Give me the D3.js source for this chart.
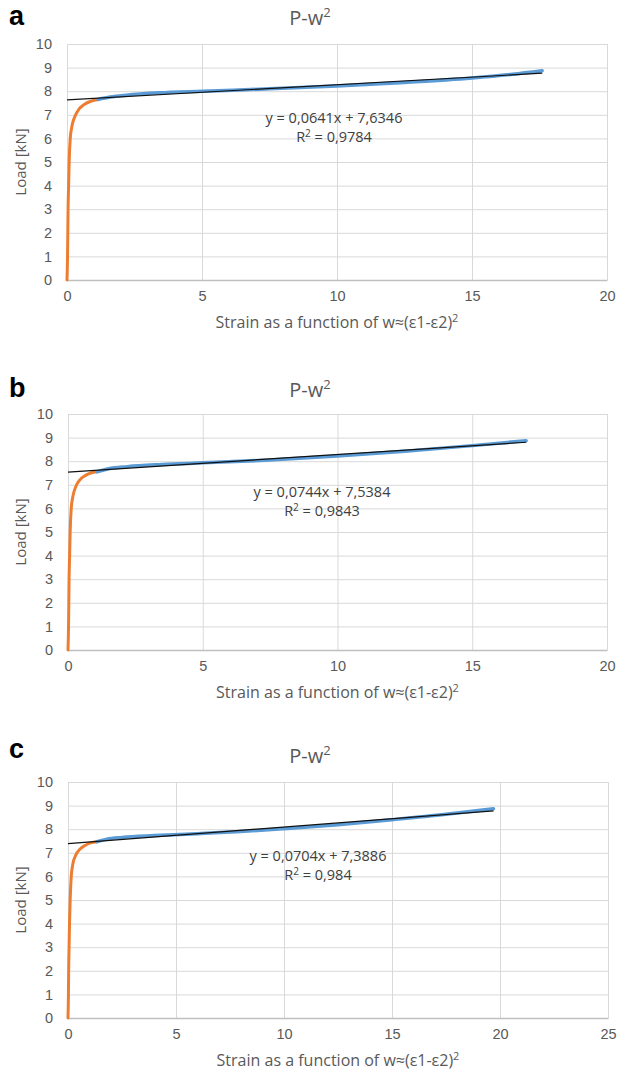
<!DOCTYPE html>
<html>
<head>
<meta charset="utf-8">
<script src="https://cdn.jsdelivr.net/npm/d3@7"></script>
<style>
body { margin: 0; background: #fff; }
svg { display: block; font-family: "Open Sans", sans-serif; }
.tick text { fill: #595959; font-size: 14.5px; }
.grid line { stroke: #d9d9d9; }
</style>
</head>
<body>
<svg id="plot" width="624" height="1072"></svg>
<script>
var svg = d3.select("#plot");

// panel a
var orangeA = [[0,0],[0.02,1],[0.03,2],[0.04,3],[0.06,4],[0.08,5],[0.12,6],[0.18,6.5],[0.3,6.95],[0.45,7.25],[0.65,7.45],[0.9,7.58],[1.15,7.65]];
var blueA = [[1.15,7.65],[1.6,7.75],[2.2,7.83],[3.4,7.93],[5,8.0],[7.5,8.1],[10,8.22],[12.5,8.37],[15,8.56],[16.5,8.72],[17.6,8.87]];
// panel b
var orangeB = [[0,0],[0.02,1],[0.03,2],[0.04,3],[0.06,4],[0.08,5],[0.12,6],[0.18,6.5],[0.3,6.95],[0.45,7.22],[0.65,7.4],[0.85,7.5],[1.08,7.55]];
var blueB = [[1.08,7.55],[1.5,7.68],[2.2,7.77],[3.5,7.86],[5,7.93],[7.5,8.05],[10,8.22],[12.5,8.42],[15,8.66],[17,8.87]];
// panel c
var orangeC = [[0,0],[0.02,1],[0.03,2],[0.05,3],[0.07,4],[0.1,5],[0.15,6],[0.22,6.5],[0.36,6.9],[0.55,7.15],[0.8,7.32],[1.05,7.42],[1.34,7.47]];
var blueC = [[1.34,7.47],[1.8,7.58],[2.5,7.65],[4,7.73],[6,7.81],[8,7.9],[10,8.02],[12.5,8.19],[15,8.4],[17.5,8.63],[19.7,8.87]];

var slopes = [0.0641, 0.0744, 0.0704];
var intercepts = [7.6346, 7.5384, 7.3886];
var eqLabels = ["y = 0,0641x + 7,6346", "y = 0,0744x + 7,5384", "y = 0,0704x + 7,3886"];
var r2Labels = ["0,9784", "0,9843", "0,984"];
var xMaxes = [20, 20, 25];
var letters = ["a", "b", "c"];
var yTicks = [0,1,2,3,4,5,6,7,8,9,10];

var panels = [
    {orange: orangeA, blue: blueA, x0: 67, x1: 607, top: 44, bottom: 280, eqX: 334, eqY: 123, titleY: 25, letterY: 25},
    {orange: orangeB, blue: blueB, x0: 68, x1: 607, top: 414, bottom: 650, eqX: 322, eqY: 497, titleY: 397, letterY: 397},
    {orange: orangeC, blue: blueC, x0: 68, x1: 608, top: 782, bottom: 1018, eqX: 318, eqY: 861, titleY: 763, letterY: 758}
];

function drawPanel(p, i) {
    var xScale = d3.scaleLinear().domain([0, xMaxes[i]]).range([p.x0, p.x1]);
    var yScale = d3.scaleLinear().domain([0, 10]).range([p.bottom, p.top]);
    var g = svg.append("g");

    // gridlines
    g.append("g")
        .attr("class", "grid")
        .attr("transform", "translate(" + p.x0 + ",0)")
        .call(d3.axisLeft(yScale).tickValues(yTicks).tickSize(-(p.x1 - p.x0)).tickFormat(""))
        .call(s => s.select(".domain").remove());
    g.append("g")
        .attr("class", "grid")
        .attr("transform", "translate(0," + p.bottom + ")")
        .call(d3.axisBottom(xScale).ticks(4).tickSize(-(p.bottom - p.top)).tickFormat(""))
        .call(s => s.select(".domain").remove());

    // axes labels
    var yAxis = g.append("g")
        .attr("transform", "translate(" + p.x0 + ",0)")
        .call(d3.axisLeft(yScale).tickValues(yTicks).tickSize(0).tickPadding(15));
    yAxis.select(".domain").remove();

    var xAxis = g.append("g")
        .attr("transform", "translate(0," + p.bottom + ")")
        .call(d3.axisBottom(xScale).ticks(4).tickSize(0).tickPadding(11));
    xAxis.select(".domain").attr("stroke", "#bfbfbf").attr("stroke-width", 1.3);

    // series
    var line = d3.line()
        .x(d => xScale(d[0]))
        .y(d => yScale(d[1]))
        .curve(d3.curveMonotoneX);
    g.append("path")
        .datum(p.orange)
        .attr("fill", "none")
        .attr("stroke", "#ed7d31")
        .attr("stroke-width", 3)
        .attr("stroke-linecap", "round")
        .attr("d", line);
    g.append("path")
        .datum(p.blue)
        .attr("fill", "none")
        .attr("stroke", "#5b9bd5")
        .attr("stroke-width", 3.5)
        .attr("stroke-linecap", "round")
        .attr("d", line);

    // linear trend
    var xEnd = p.blue[p.blue.length - 1][0];
    g.append("line")
        .attr("x1", xScale(0))
        .attr("y1", yScale(intercepts[i]))
        .attr("x2", xScale(xEnd))
        .attr("y2", yScale(intercepts[i] + slopes[i] * xEnd))
        .attr("stroke", "#111")
        .attr("stroke-width", 1.2);

    // texts
    g.append("text")
        .attr("x", p.eqX)
        .attr("y", p.eqY)
        .attr("text-anchor", "middle")
        .attr("fill", "#404040")
        .attr("font-size", 14.5)
        .text(eqLabels[i]);
    var r2 = g.append("text")
        .attr("x", p.eqX)
        .attr("y", p.eqY + 19)
        .attr("text-anchor", "middle")
        .attr("fill", "#404040")
        .attr("font-size", 14.5);
    r2.append("tspan").text("R");
    r2.append("tspan").attr("dy", -5).attr("font-size", 10).text("2");
    r2.append("tspan").attr("dy", 5).text(" = " + r2Labels[i]);

    var title = g.append("text")
        .attr("x", 310)
        .attr("y", p.titleY)
        .attr("text-anchor", "middle")
        .attr("fill", "#595959")
        .attr("font-size", 20);
    title.append("tspan").text("P-w");
    title.append("tspan").attr("dy", -8).attr("font-size", 13).text("2");

    var xt = g.append("text")
        .attr("x", (p.x0 + p.x1) / 2)
        .attr("y", p.bottom + 48)
        .attr("text-anchor", "middle")
        .attr("fill", "#595959")
        .attr("font-size", 16);
    xt.append("tspan").text("Strain as a function of w\u2248(\u03b51-\u03b52)");
    xt.append("tspan").attr("dy", -6).attr("font-size", 11).text("2");

    g.append("text")
        .attr("transform", "translate(26," + ((p.top + p.bottom) / 2) + ") rotate(-90)")
        .attr("text-anchor", "middle")
        .attr("fill", "#595959")
        .attr("font-size", 15)
        .text("Load [kN]");

    g.append("text")
        .attr("x", 9)
        .attr("y", p.letterY)
        .attr("font-family", "Liberation Sans, Arial, sans-serif")
        .attr("font-weight", "bold")
        .attr("font-size", 27)
        .text(letters[i]);
}

panels.forEach(drawPanel);
</script>
</body>
</html>
